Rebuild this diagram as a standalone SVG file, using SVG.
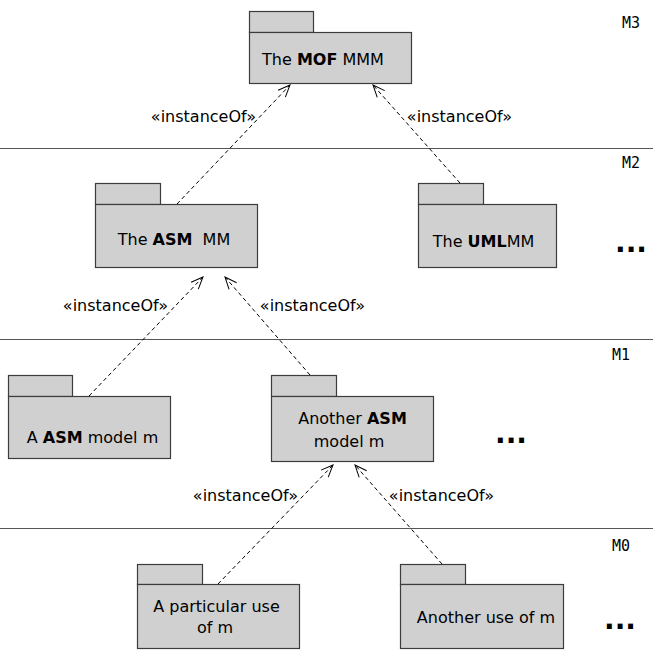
<svg xmlns="http://www.w3.org/2000/svg" width="653" height="650" viewBox="0 0 653 650">
<defs>
<style>
.pkg{fill:#d0d0d0;stroke:#3c3c3c;stroke-width:1.2}
.t{font-family:"DejaVu Sans","Liberation Sans",sans-serif;font-size:16px;fill:#000;text-anchor:middle}
.b{font-weight:bold}
.lvl{font-family:"DejaVu Sans Mono","Liberation Mono",monospace;font-size:15px;fill:#000}
.dots{font-family:"DejaVu Sans","Liberation Sans",sans-serif;font-weight:bold;font-size:28px;fill:#000}
.sep{stroke:#555;stroke-width:1}
.dep{stroke:#000;stroke-width:1;stroke-dasharray:4 3;fill:none;marker-end:url(#open)}
</style>
<marker id="open" viewBox="-13 -7 15 14" refX="0" refY="0" markerWidth="15" markerHeight="14" markerUnits="userSpaceOnUse" orient="auto">
<path d="M-12,-5 L0,0 L-12,5" fill="none" stroke="#000" stroke-width="1"/>
</marker>
</defs>
<rect width="653" height="650" fill="#fff"/>
<g id="separators">
<line class="sep" x1="0" y1="148.5" x2="653" y2="148.5"/>
<line class="sep" x1="0" y1="339.5" x2="653" y2="339.5"/>
<line class="sep" x1="0" y1="528.5" x2="653" y2="528.5"/>
</g>
<g id="levels">
<text class="lvl" x="622" y="28">M3</text>
<text class="lvl" x="622" y="168">M2</text>
<text class="lvl" x="612" y="360">M1</text>
<text class="lvl" x="612" y="551">M0</text>
</g>
<g id="mof">
<rect class="pkg" x="249.5" y="11.5" width="64" height="21"/>
<rect class="pkg" x="249.5" y="32.5" width="162" height="51"/>
<text class="t" x="323" y="65">The <tspan class="b">MOF</tspan> MMM</text>
</g>
<g id="asm-mm">
<rect class="pkg" x="95.5" y="183.5" width="65" height="21"/>
<rect class="pkg" x="95.5" y="204.5" width="162" height="63"/>
<text class="t" x="174" y="245" xml:space="preserve">The <tspan class="b">ASM</tspan>  MM</text>
</g>
<g id="uml-mm">
<rect class="pkg" x="418.5" y="183.5" width="65" height="21"/>
<rect class="pkg" x="418.5" y="204.5" width="138" height="63"/>
<text class="t" x="483.5" y="247">The <tspan class="b">UML</tspan>MM</text>
</g>
<g id="asm-model">
<rect class="pkg" x="8.5" y="375.5" width="64" height="21"/>
<rect class="pkg" x="8.5" y="396.5" width="162" height="62"/>
<text class="t" x="92.5" y="443">A <tspan class="b">ASM</tspan> model m</text>
</g>
<g id="another-asm-model">
<rect class="pkg" x="271.5" y="375.5" width="65" height="21"/>
<rect class="pkg" x="271.5" y="396.5" width="162" height="65"/>
<text class="t" x="352.5" y="424">Another <tspan class="b">ASM</tspan></text>
<text class="t" x="349" y="447">model m</text>
</g>
<g id="particular-use">
<rect class="pkg" x="137.5" y="564.5" width="65" height="20"/>
<rect class="pkg" x="137.5" y="584.5" width="162" height="64"/>
<text class="t" x="216.5" y="612">A particular use</text>
<text class="t" x="215" y="633">of m</text>
</g>
<g id="another-use">
<rect class="pkg" x="400.5" y="564.5" width="65" height="20"/>
<rect class="pkg" x="400.5" y="584.5" width="163" height="64"/>
<text class="t" x="486" y="623">Another use of m</text>
</g>
<g id="ellipses">
<text class="dots" x="615" y="252">...</text>
<text class="dots" x="495" y="443">...</text>
<text class="dots" x="604" y="629">...</text>
</g>
<g id="connectors">
<line class="dep" x1="177" y1="204" x2="290" y2="85"/>
<line class="dep" x1="460" y1="183" x2="373" y2="85"/>
<line class="dep" x1="89" y1="396" x2="203" y2="277"/>
<line class="dep" x1="310" y1="375" x2="225" y2="277"/>
<line class="dep" x1="218" y1="584" x2="333" y2="465"/>
<line class="dep" x1="442" y1="564" x2="355" y2="465"/>
<text class="t" x="203.5" y="122">«instanceOf»</text>
<text class="t" x="459.5" y="122">«instanceOf»</text>
<text class="t" x="115.5" y="311">«instanceOf»</text>
<text class="t" x="312.5" y="311">«instanceOf»</text>
<text class="t" x="245.5" y="501">«instanceOf»</text>
<text class="t" x="441.5" y="501">«instanceOf»</text>
</g>
</svg>
